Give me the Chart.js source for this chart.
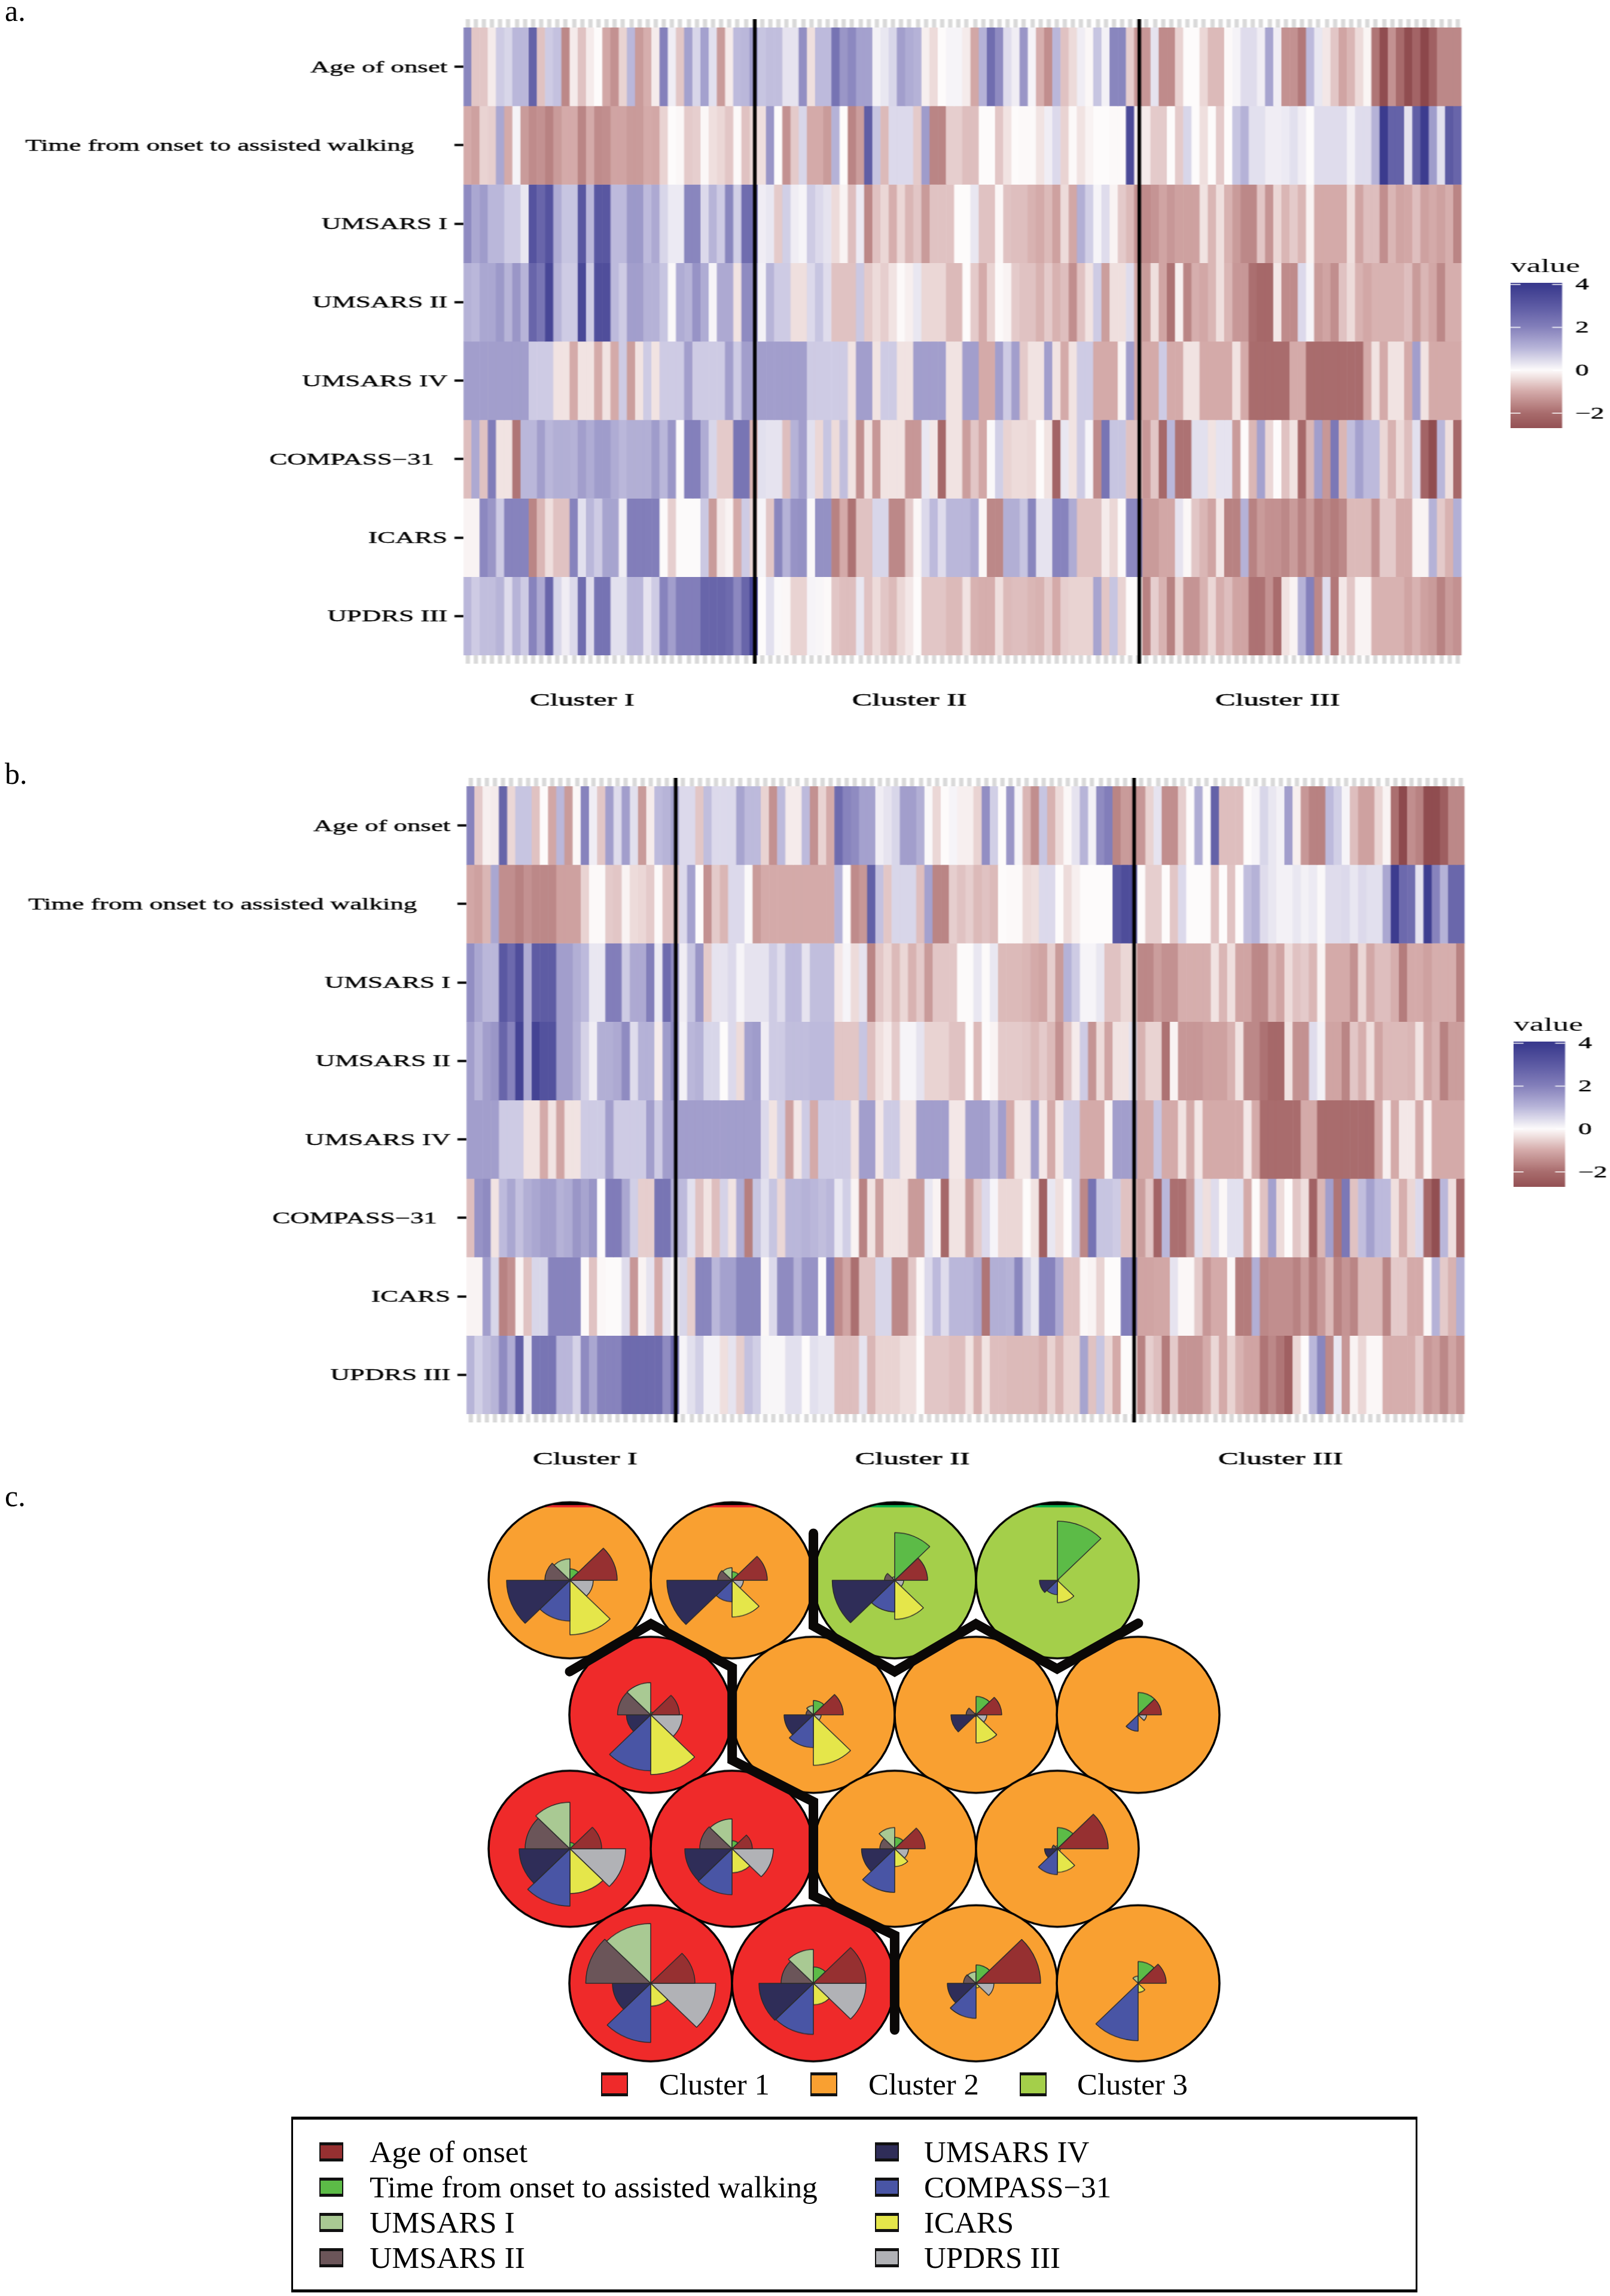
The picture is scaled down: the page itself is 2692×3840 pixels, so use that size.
<!DOCTYPE html>
<html>
<head>
<meta charset="utf-8">
<title>Clusters</title>
<script src="https://cdn.jsdelivr.net/npm/chart.js@4"></script>
<style>
  html, body { margin: 0; background: #fff; }
  #page { position: relative; width: 2692px; height: 3840px; overflow: hidden; font-family: "Liberation Serif", serif; color: #000; }
  .panel { position: absolute; width: 1602px; height: 1240px; transform-origin: 0 0; }
  .panel canvas { position: absolute; }
  .pie { position: absolute; transform: scaleY(0.96); }
  .txt { position: absolute; white-space: pre; font-size: 51px; }
  .swatch { position: absolute; box-sizing: border-box; border: solid #111; border-width: 5px 2px; }
  #box { position: absolute; left: 487px; top: 3540px; width: 1883px; height: 294px; box-sizing: border-box; border: solid #000; border-width: 5px 3px; }
</style>
</head>
<body>
<div id="page">
  <div class="panel" id="panelA" style="left:0;top:0"><canvas id="heatA" width="1602" height="1240"></canvas><canvas id="barA" width="100" height="319"></canvas></div>
  <div class="panel" id="panelB" style="left:5px;top:1269px"><canvas id="heatB" width="1602" height="1240"></canvas><canvas id="barB" width="100" height="319"></canvas></div>
  <div id="pies"></div>
  <canvas id="borders" width="2692" height="960" style="position:absolute;left:0;top:2480px"></canvas>
  <div id="box"></div>
  <div id="legends"></div>
</div>
<script>
// row labels, trailing spaces are in the original labels
const rowLabels = ["Age of onset", "Time from onset to assisted walking     ", "UMSARS I", "UMSARS II", "UMSARS IV", "COMPASS\u221231  ", "ICARS", "UPDRS III"];
const clusterNames = ["Cluster I", "Cluster II", "Cluster III"];
const clusterTickIdx = [14, 54, 99];
const barTicks = [4, 2, 0, -2];
const barRange = [-2.7, 4.08];
const breaksA = [35.1, 82.1];
const breaksB = [25.07, 81.1];

// panel a, z scores by column
const ageA = [
1.9,-.65,-.65,-.2,.7,.55,1,1,2.8,-.7,
.7,.85,-1.55,-.2,-.7,-.2,0,-1.05,-1.4,-.5,
1,-1.25,-.95,-.2,2,.2,-.65,1.4,.55,1.4,
.4,-1.25,-.2,.95,1,1.5,.8,.9,.9,.35,
.35,1.75,-.35,.95,.95,2.35,1.6,1.85,1.4,1.4,
.15,.3,.55,1.45,1.2,1.1,-.15,-.4,0,.1,
.1,-.2,-1.05,1.1,2.5,1.8,.45,.2,1.6,.1,
-.95,-1.45,1,-.7,-.4,.2,-.05,.8,.15,1.9,
1.9,-.55,-1.3,-1.3,.35,-1.5,-1.5,-.5,0,0,
-.45,-.8,-.8,-.03,.12,.45,.45,.2,1.35,.2,
-1.4,-1.4,-1.8,.95,.3,-.25,-.65,-1.1,-.85,-.4,
-.08,-1.85,-2.8,-1.4,-2.05,-2.8,-2.2,-2.95,-2.3,-1.55,
-1.55,-1.55];
const timeA = [
-1,-1.15,-.5,-.55,1.3,-1,.12,-1.25,-1.5,-1.4,
-1.65,-1.25,-1,-1,-1.6,-1,-1.5,-1.45,-1.1,-1.1,
-1.25,-1.25,-1,-1.05,-.5,0,-.05,-.6,-.55,-.05,
-.35,-.45,-.65,-.02,-.7,-.45,-.35,1.6,0,-1.4,
-.6,.55,-1,-1,-1.25,1.1,0,-1.6,-1.2,2.9,
.8,-.8,.5,.5,.5,-.6,1.5,-1.6,-1.6,-.55,
-.55,-.75,-.75,0,0,-.65,-.3,0,-.02,-.02,
-.3,.2,.5,-.5,-.02,-.3,-.1,0,0,-.02,
-.02,3.5,-.15,-.2,-.6,-.6,0,-.6,.55,0,
-.35,0,-.6,0,.8,1.1,.4,.4,.2,.2,
.25,.4,.2,0,.45,.45,.45,.45,.15,.45,
.45,1.1,3.95,2.8,2.8,.35,2.9,3.9,1.5,.4,
3,2.7];
const umsars1A = [
1.8,1.3,1.5,1,1,.7,.7,.3,3.2,2.7,
3.2,1.2,.8,.8,3.1,1,3.1,3.1,.95,.95,
1.55,1.55,.95,1.25,.55,.25,.25,1.9,1.9,.5,
1.05,.7,1.9,.65,2.5,2.5,.2,.3,-.6,.65,
.2,.1,.7,.5,.35,-.4,-.1,-.75,.25,-1.55,
-.7,-.45,-.95,-.45,-.85,-.65,-1.25,-.7,-.7,-.7,
0,0,.3,-.7,-.7,-.05,-.7,-.75,-.75,-.9,
-1,-.8,-1.15,-.4,-1.05,1.15,.65,.1,.45,-.1,
-.6,-.8,-1.4,-1.5,-1.35,-1.1,-1.3,-1.15,-1.15,-1.15,
-.3,-.85,-.35,-.9,-1.25,-1.55,-1.55,-.65,-1.35,-.45,
-.85,-.6,-.85,-.1,-1,-1,-1,-1,-.35,-1.1,
-.75,-.75,-1.45,-.85,-1.1,-1.05,-.75,-1.15,-1,-1.15,
-.95,-1.6];
const umsars2A = [
1.1,1,1.3,1.3,1.55,1.05,1.6,1.05,2.7,2.3,
3.6,1.05,.7,.7,3.55,.7,3.35,3.35,.95,.7,
1.45,1.45,1.1,1.1,.8,.05,1.2,1.05,1.65,1.2,
.1,1.25,1.25,-.3,1.8,1.8,.15,1.05,.7,.7,
-.35,-.35,.5,.8,.45,-.7,-.7,-.7,.75,-.6,
-.4,-.55,-.3,-.02,-.15,.3,-.45,-.45,-.45,-.8,
-.8,0,-.6,-1,-.5,-.02,-.1,-.6,-.7,-.7,
-.9,-.6,-.9,-.75,-1.45,-.7,-.3,.7,-1.2,-.35,
-.35,.45,-1,-1.25,-.35,-1.1,-1.9,-.15,-1.6,-.95,
-1.05,-.85,-.35,-.85,-1.3,-1.3,-1.95,-2.1,-2.1,-.25,
-1.5,-1.5,.5,.1,-1.25,-1.1,-1.45,-.7,-.4,-.9,
-1.05,-.9,-.9,-.9,-.9,-.75,-1.25,-.85,-1.05,-1.55,
-.95,-.95];
const umsars4A = [
1.45,1.45,1.45,1.45,1.45,1.45,1.45,1.45,.7,.7,
.7,-.3,-.3,-1,-.3,-.3,-1,-.3,-1,.7,
-1.2,-.3,.7,-.3,.7,.7,.7,1.45,.7,.7,
.7,.7,1.45,.7,1.45,1.45,1.45,1.45,1.45,1.45,
1.45,1.45,.7,.7,.7,.7,.7,-.3,1.45,1.45,
-.3,.7,.7,-.3,-.3,1.45,1.45,1.45,1.45,-.3,
-.3,1.45,1.45,-1,-1,1.45,.7,1.45,-.6,-.3,
-.3,1.45,-.3,-1,-.3,.7,.7,-1,-1,-1,
-.1,1.45,-1,-1,-1,.7,-1,-1,-.3,-.3,
-1,-1,-1,-1,-.3,-1,-2,-2,-2,-2,
-2,-1,-1,-2,-2,-2,-2,-2,-2,-2,
-1,-.3,-1,-.3,-.3,-1,1.45,-.3,-1,-1,
-1,-1];
const compassA = [
-.75,1.25,-.7,2.1,-.3,-.3,-1.85,1,1,1.45,
1,1.15,1.15,1.1,1.45,1.2,1.5,1.5,1.2,1,
1.15,1.15,1.15,1.5,1,1.6,.02,2,2,1.2,
.55,-.6,-.6,2.3,2.3,-.9,.4,.35,.35,-.75,
1.1,1.45,.4,-.45,.8,-.4,.9,-.3,-1.45,-.3,
-1.3,-.3,-.3,-.3,-1.3,-1.3,.3,-.25,-2.1,-.3,
-.3,-1.2,-.65,-1.05,.05,.65,-.5,-.4,-.4,-.45,
0,-.3,-2.2,.3,-.3,.7,.1,-1.5,2.3,.8,
.8,-.7,-.7,-1.3,-.65,-2.1,1,-1.9,-1.9,.4,
.4,-.3,.35,.35,-1.25,0,-.85,1.4,-.45,0,
-.7,-.3,-2.1,-.85,1.45,-1.3,2.2,-.85,.9,1.4,
.95,.95,-.45,-.9,-.4,-.75,.4,-2.2,-2.8,1,
-.35,-2.1];
const icarsA = [
-.1,-.1,1.85,1.6,.7,1.95,1.95,1.95,-1.6,-.85,
-.35,-.7,-.7,1.95,.4,1,.7,1.35,1.35,.2,
2.05,2.05,2.05,2.05,.02,-.55,.02,.02,.02,.75,
-1.25,-.25,-.1,-1,.7,-.5,.1,-.65,1.9,1.1,
1.65,1.7,.05,1.7,1.7,-1.65,-1,-1.9,-.7,-.7,
.55,.55,-1.55,-1.55,-.6,-.05,.5,.95,.45,1,
1,1,1.25,-.05,-1.55,-1.55,1.15,1.15,.8,1.9,
.35,.35,1.95,1.95,1.2,-.7,-.7,-.7,-.2,-.45,
-.02,1.85,1.85,-1.25,-1.25,-1.05,-1.05,.35,-.05,-.65,
-.85,-1.1,-.25,-1.65,-1.65,1.1,-1.65,-1.25,-1.4,-1.4,
-1.55,-1.25,-1.65,-1.25,-1.75,-1.55,-1.75,-1.55,-.8,-.8,
-.8,-1.4,-.6,-.6,-1,-1,-.1,-.1,1.1,-.6,
-.9,1.15];
const updrsA = [
1,.7,.9,.9,1.05,.45,1.05,.7,1.95,1.25,
2.7,.55,.2,.5,2.5,.45,2.35,2.35,.4,.4,
1,1,.35,.7,1.95,1.45,2.05,2.05,2.05,2.7,
2.7,2.7,2.55,1.85,2.7,3.7,0,.4,.05,-.05,
-.5,-.5,.1,.08,-.02,-.65,-.75,-.75,.3,-.7,
-.4,-.65,-.8,-.45,-.25,0,-.65,-.65,-.65,-.8,
-.8,-.3,-.9,-.95,-.95,-.35,-.8,-.75,-.75,-.85,
-.9,-.6,-1,-.55,-.5,-.5,-.5,1.35,-.65,.8,
-.5,0,0,-1.65,-.55,-.9,-1.65,-.5,-1.35,-1.35,
-.9,-.45,-.95,-.75,-1.1,-1.1,-1.9,-1.9,-1.4,-2,
-.3,-.1,1.1,2,-1.55,.45,-1.8,-.25,-.65,-.1,
-.1,-.9,-.9,-.9,-.9,-1.1,-.9,-1.15,-1.25,-1.65,
-1.25,-1.4];

// panel b
const ageB = [
1.95,-.6,-.15,-.2,2.75,-.45,.8,.8,-.7,0,
-1.05,1,-1.25,-.05,1.95,.2,-.65,1.45,.45,1.45,
.4,-1.25,-.2,.95,1.05,1.4,.5,.5,-.65,.9,
.5,.5,.5,1.35,.95,.95,-.5,-1.4,.95,-.2,
-.2,.95,-1.4,-.5,-1,2.55,1.95,1.8,1.4,1.4,
.2,.35,.55,1.45,1.45,1.15,.05,-.45,0,.1,
-.15,-.15,-.5,1.75,.65,0,1.6,.1,-.85,-1.45,
.8,-.9,-.4,-.05,.35,1.05,.15,1.8,2.05,-1.6,
-1.25,-1.3,-1.3,-.5,.35,-1.45,-1.45,-.55,0,1.2,
0,2.8,-.75,-.75,-.75,0,.1,.55,.3,.15,
1.45,-.15,-1.3,-1.65,-1.65,.95,.65,.1,-.75,-1.15,
-1.15,-.45,-.1,-1.95,-2.9,-1.45,-1.65,-2.8,-2.8,-2.35,
-1.55,-1.55];
const timeB = [
-1.05,-1.15,-.85,1.3,-1.45,-1.45,-1.65,-1.4,-1.55,-1.55,
-1.55,-1.15,-1.15,-1.15,-.5,-.03,-.03,-.6,-.65,-.1,
-.4,-.45,-.6,-.02,-.7,-.7,.5,1.4,0,-1.4,
-.6,-.85,.5,.5,.05,-1.25,-1,-1,-1,-1,
-1,-1,-1,-1,-1,1.1,0,-1.5,-1.3,2.85,
.85,-.65,.55,.55,.55,-.75,1.4,-1.6,-1.6,-.55,
-.7,-.55,-.8,-.7,-.8,0,-.02,-.02,-.4,-.35,
.5,.5,0,-.4,-.15,0,0,0,0,3.1,
3.4,3.4,0,-.55,-.55,0,-.65,.5,0,0,
0,-.7,0,-.7,0,.9,1.1,.45,.3,.15,
.15,.3,.15,.25,.05,.45,.45,.5,.3,.5,
.4,.4,1.3,3.9,2.6,2.5,.35,3.85,1.95,1.1,
2.65,2.65];
const umsars1B = [
1.75,1.3,1,1,3.05,2.6,3.35,1.2,2.95,2.95,
2.95,1.45,1.45,1.15,.95,.3,.3,2.05,2.05,.7,
1.25,1.25,2.05,.25,2.55,1.8,.2,.8,1.6,-.6,
.35,.35,.5,.1,.35,.35,.35,.7,.45,.95,
.95,.35,.9,.9,.9,-.25,.1,-.4,.35,-1.6,
-.65,-.45,-.8,-.45,-.9,-.6,-1.25,-.65,-.65,-.65,
.02,.02,.3,.02,.3,-.8,-.8,-.8,-.85,-1,
-1.1,-.55,-1.25,1.1,.7,.1,.1,.3,-.7,-.7,
-.45,-.45,-1.55,-1.55,-1.2,-1.4,-1.4,-.95,-.95,-.95,
-.95,-.3,-.85,-.35,-1.1,-1.1,-1.55,-1.55,-.85,-1.1,
-.4,-.7,-.6,-.85,-.1,-1,-1,-1,-1.4,-.45,
-1.05,-.75,-.75,-.95,-1.75,-1,-1,-1.15,-.95,-.95,
-.95,-1.65];
const umsars2B = [
1.45,1.05,1.45,1.6,2.7,1.95,3.7,1.2,3.7,3.25,
3.25,1.45,1.45,1.1,.6,.2,1.15,1.15,1.25,1.8,
.45,1.1,1.1,-.2,1.5,1.9,.15,1,1.1,.55,
.55,0,.5,-.4,1.4,1.5,.2,.7,.7,.9,
.9,.9,.95,.95,.95,-.65,-.65,-.65,.8,-.75,
-.35,-.2,-.6,.1,.1,.35,-.5,-.5,-.5,-.7,
-.7,0,-.8,0,-.1,-.6,-.6,-.6,-.65,-.8,
-.6,-.8,-1.4,-.7,-.2,.7,-1.35,-.4,-1.1,-.3,
-.3,.4,-.9,-.5,-.5,-1.9,-.1,-1.3,-1.3,-1.3,
-1.15,-1.15,-1.15,-.9,-.3,-1.55,-1.55,-1.9,-2.1,-2.1,
-.3,-1.4,-1.4,.45,.15,-1.1,-1.1,-1.6,-.65,-.95,
-.35,-1.1,-.8,-.8,-.8,-.85,-.3,-1.1,-.9,-1.65,
-1.2,-1.2];
const umsars4B = [
1.45,1.45,1.45,1.45,.7,.7,.7,-.3,-.3,-1,
-.3,-1.1,-.3,-.3,.7,.7,.7,1.45,.7,.7,
.7,.7,1.45,.7,1.45,1.45,1.45,1.45,1.45,1.45,
1.45,1.45,1.45,1.45,1.45,1.45,.5,-.3,.65,-1.15,
-.25,.7,-1,.7,.7,.7,.7,-.3,1.45,1.45,
-.25,.7,.7,-.25,-.25,1.45,1.45,1.45,1.45,-.25,
-.25,1.45,1.45,1.45,.85,1.45,-1,-.25,-.25,1.45,
-.25,-1,-.25,.7,.7,-1,-1,-1,-.1,1.45,
1.45,1.45,-1,-1,.8,-1,-1,-.3,-1,-.25,
-1,-1,-1,-1,-1,-.25,-1,-2,-2,-2,
-2,-2,-1,-1,-2,-2,-2,-2,-2,-2,
-2,-1,-.15,-1,-.25,-.25,-1,-.1,-1,-1,
-1,-1];
const compassB = [
-.75,1.65,1.8,-.3,.95,1.3,.85,1.15,1.3,1.45,
1.45,1.1,1.2,1.6,1.35,1.6,0,2.1,2.1,1.3,
.65,-.55,-.55,2.3,2.3,1.15,.95,.4,-.7,-.3,
-.75,.6,-.3,1.2,-1.7,.8,.4,.8,-.45,1,
1,1.1,1,.9,1,.3,.65,-.1,-1.65,-.3,
-1.2,-.3,-.3,-.3,-1.25,-1.25,.3,-.1,-2.1,-.3,
-.3,-1.25,-.6,.5,.1,-.45,-.45,-.45,0,-.3,
-2.3,.3,-.35,0,.7,-1.55,2.35,.8,.8,.7,
-.7,-.7,-1.2,-.65,-2.2,1,-1.95,-1.95,-1.25,.4,
-.35,.45,-.05,.4,.4,-1,0,-.7,1.4,-.4,
0,-.65,-.35,-2.25,-.85,1.45,-1.85,2.2,-.7,.9,
1.4,.95,.95,-.35,-.95,-.45,.5,-2.1,-2.75,1,
-.35,-2.1];
const icarsB = [
-.1,-.1,1.45,.55,-1.65,-1.4,-.1,-.7,.55,.55,
1.95,1.95,1.95,1.95,-.02,-.7,-.05,.02,.02,.45,
-1.3,-.1,.35,-1,.35,-.05,.55,-.55,1.9,1.9,
1,1.4,1.4,1.9,1.9,1.9,-.05,.5,1.8,1.8,
1.1,1.65,1.65,.02,2.1,-1.5,-1.1,-1.95,-.7,-.7,
.55,.55,-1.55,-1.55,-.65,-.05,.5,.95,.45,1,
1,1,1.25,-1.85,1.15,1.15,1.1,1.9,.65,.3,
1.95,1.95,1.25,-.7,-.7,-.05,-.1,-.5,0,0,
2.05,2.05,-1.1,-1.1,-1.05,-1.05,.35,-.05,-.05,-.6,
-1.3,-1,-1,-.05,-1.75,-1.75,1.15,-1.55,-1.45,-1.45,
-1.45,-1.65,-1.25,-1.75,-1.3,-.8,-1.65,-1.35,-1.6,-.8,
-.8,-.8,-1.6,-.6,-.6,-1,-1,-.05,1.1,-.6,
-.9,1.15];
const updrsB = [
1.05,.65,.9,1.05,1.8,1.2,2.85,.35,2.3,2.3,
2.3,1,1,.6,1.8,1.3,1.95,1.95,1.95,2.55,
2.55,2.55,2.55,2.55,1.8,2.7,.1,.4,.65,.15,
.15,-.35,.35,-.55,.85,.65,.08,.08,.08,.4,
.4,0,.4,.3,.3,-.75,-.75,-.75,.35,-.85,
-.5,-.5,-.5,-.35,-.35,0,-.65,-.65,-.65,-.75,
-.75,-.3,-.9,-.3,-.75,-.75,-.8,-.8,-.8,-.8,
-.95,-.5,-.85,-.5,-.5,1.35,-.7,.8,-.45,-1,
0,0,-1.65,-.55,-.75,-1.75,-.6,-1.35,-1.35,-1.35,
-1,-.45,-1,-.5,-.9,-1.1,-1.1,-1.85,-1.55,-1.85,
-2.3,-.45,0,1,1.9,-1.55,.3,-1.3,-.1,-.45,
-.05,-.05,-.95,-.95,-.95,-.95,-.6,-1.3,-1.15,-1.55,
-1.1,-1.4];

// panel c, one value per map node
const nodeCol = [0,1,2,3, .5,1.5,2.5,3.5, 0,1,2,3, .5,1.5,2.5,3.5];
const nodeRow = [0,0,0,0, 1,1,1,1, 2,2,2,2, 3,3,3,3];
const nodeCluster = [2,2,3,3, 1,2,2,2, 1,1,2,2, 1,1,2,2];
const nodeAge = [79,59,55,2, 48,50,43,39, 53,34,51,85, 74,88,108,47];
const nodeTime = [20,15,83,103, 5,25,32,39, 11,14,20,37, 2,28.5,32,38];
const nodeU1 = [37.5,22,6,0, 56,16,3,0, 81,52,37,5, 104,59,20,12.5];
const nodeU2 = [42,24,17,0, 55.5,12.4,16.6,0, 75,54,25,9, 108.6,54,21,0];
const nodeU4 = [106,109,104.5,30, 40.6,49,42,0, 85,79,55.5,21.5, 64,91,48,0];
const nodeCompass = [71,37.5,55,25, 97.5,57,3,28.5, 100,80,76,45, 103,89,61,100];
const nodeIcars = [95,64,68,39, 104,88,49,0, 78,42,31,41, 40,37.5,8,16];
const nodeUpdrs = [39,19,15,0, 53,13,18,14, 93,69,23,5, 108.6,88,30,0];
const wedgeNames = ["Age of onset", "Time from onset to assisted walking", "UMSARS I", "UMSARS II", "UMSARS IV", "COMPASS\u221231", "ICARS", "UPDRS III"];
const wedgeColors = ["#963031", "#5cbb47", "#a9c993", "#6b5559", "#2f2d58", "#4955a5", "#e5e64a", "#b1b2b6"];
const clusterColors = { 1: "#ef2a2a", 2: "#f9a031", 3: "#a4cf4a" };
const capColors = { 0: "#e8262a", 1: "#e8262a", 2: "#0db04b", 3: "#0db04b" };
const boundary1x = [0, .5, 1, 1, 1.5, 1.5, 2, 2];
const boundary1y = [.68, .325, .65, 1.34, 1.65, 2.35, 2.645, 3.35];
const boundary2x = [1.5, 1.5, 2, 2.5, 3, 3.5];
const boundary2y = [-.35, .34, .68, .325, .66, .32];

const SX = 2692 / 1602; // heatmap panels are stretched sideways in the original
const nCols = ageA.length;
const colLabels = ageA.map((_, i) => "S" + (i + 1));

const palette = [[-3, [138,69,73]], [-2, [169,108,109]], [-1, [212,170,169]], [0, [253,251,251]], [1, [186,183,218]], [2, [132,128,187]], [3, [92,90,163]], [4, [57,57,141]]];
function zColor(z) {
  z = Math.max(-3, Math.min(4, z));
  for (let i = 0; i < palette.length - 1; i++) {
    const [a, ca] = palette[i], [b, cb] = palette[i + 1];
    if (z <= b) {
      const t = (z - a) / (b - a);
      return "rgb(" + ca.map((c, j) => Math.round(c + (cb[j] - c) * t)).join(",") + ")";
    }
  }
}

Chart.defaults.font.family = '"Liberation Serif", serif';
Chart.defaults.color = "#000";
Chart.defaults.animation = false;
Chart.defaults.responsive = false;
Chart.defaults.devicePixelRatio = 1;
Chart.defaults.events = [];

const breakLines = {
  id: "breakLines",
  afterDraw(chart, args, opts) {
    const { ctx, chartArea, scales } = chart;
    ctx.save();
    ctx.strokeStyle = "#000";
    ctx.lineWidth = 6 / SX;
    opts.at.forEach(b => {
      const x = scales.x.getPixelForValue(b);
      ctx.beginPath();
      ctx.moveTo(x, chartArea.top - 14);
      ctx.lineTo(x, chartArea.bottom + 14);
      ctx.stroke();
    });
    ctx.restore();
  }
};

function heatmap(id, rows, breaks) {
  new Chart(document.getElementById(id), {
    type: "bar",
    plugins: [breakLines],
    data: {
      labels: colLabels,
      datasets: rows.map((zs, r) => ({
        label: rowLabels[r],
        data: zs.map(() => [r, r + 1]),
        backgroundColor: zs.map(zColor),
        borderWidth: 0,
        inflateAmount: 0.3,
        categoryPercentage: 1,
        barPercentage: 1,
        grouped: false
      }))
    },
    options: {
      layout: { padding: { right: 248 / SX } },
      plugins: { legend: { display: false }, tooltip: { enabled: false }, breakLines: { at: breaks } },
      scales: {
        x: {
          type: "category", offset: true,
          afterFit: s => { s.height = 144; },
          grid: { offset: false, drawOnChartArea: false, tickLength: 14, tickWidth: 4.2, tickColor: "#d9d9d9" },
          border: { display: false },
          ticks: {
            autoSkip: false, maxRotation: 0, minRotation: 0, padding: 44,
            font: { size: 30 }, textStrokeColor: "#000", textStrokeWidth: 0.5,
            callback: (v, i) => { const k = clusterTickIdx.indexOf(i); return k < 0 ? "" : clusterNames[k]; }
          }
        },
        x2: {
          type: "category", axis: "x", position: "top", offset: true,
          afterFit: s => { s.height = 46; },
          grid: { offset: false, drawOnChartArea: false, tickLength: 14, tickWidth: 4.2, tickColor: "#d9d9d9" },
          border: { display: false },
          ticks: { display: false, autoSkip: false }
        },
        y: {
          type: "linear", min: 0, max: rows.length, reverse: true,
          afterFit: s => { s.width = 775 / SX; },
          afterBuildTicks: s => { s.ticks = rows.map((_, i) => ({ value: i + 0.5 })); },
          grid: { drawOnChartArea: false, tickLength: 9, tickWidth: 4, tickColor: "#111" },
          border: { display: false },
          ticks: {
            padding: 7, autoSkip: false, labelOffset: 2, font: { size: 26.7 },
            textStrokeColor: "#000", textStrokeWidth: 0.4,
            callback: v => rowLabels[v - 0.5]
          }
        }
      }
    }
  });
}

function colorBar(id) {
  const cv = document.getElementById(id);
  cv.style.left = (2525.5 / SX) + "px";
  cv.style.top = "427px";
  new Chart(cv, {
    type: "bar",
    plugins: [{
      id: "barMarks",
      afterDatasetsDraw(chart) {
        const { ctx, chartArea, scales } = chart;
        ctx.save();
        ctx.strokeStyle = "rgba(255,255,255,.75)";
        ctx.lineWidth = 2;
        barTicks.forEach(t => {
          const y = scales.y.getPixelForValue(t);
          ctx.beginPath();
          ctx.moveTo(chartArea.left, y); ctx.lineTo(chartArea.left + 10, y);
          ctx.moveTo(chartArea.right - 10, y); ctx.lineTo(chartArea.right, y);
          ctx.stroke();
        });
        ctx.restore();
      }
    }],
    data: {
      labels: ["value"],
      datasets: [{
        data: [barRange],
        categoryPercentage: 1,
        barPercentage: 1,
        borderWidth: 0,
        backgroundColor: c => {
          const y = c.chart.scales.y;
          if (!y) return "#999";
          const top = y.getPixelForValue(barRange[1]), bot = y.getPixelForValue(barRange[0]);
          if (!Number.isFinite(top) || !Number.isFinite(bot)) return "#999";
          const g = c.chart.ctx.createLinearGradient(0, top, 0, bot);
          for (let i = 0; i <= 40; i++) {
            const f = i / 40;
            g.addColorStop(f, zColor(barRange[1] + (barRange[0] - barRange[1]) * f));
          }
          return g;
        }
      }]
    },
    options: {
      layout: { padding: { bottom: 30 } },
      plugins: {
        legend: { display: false }, tooltip: { enabled: false },
        title: { display: true, text: "value", align: "start", font: { size: 32, weight: "normal" }, padding: { top: 0, bottom: 7.6 } }
      },
      scales: {
        x: { display: false, offset: true },
        y: {
          position: "right", min: barRange[0], max: barRange[1],
          afterFit: s => { s.width = 100 - 86.5 / SX; },
          afterBuildTicks: s => { s.ticks = barTicks.map(v => ({ value: v })); },
          grid: { display: false, drawTicks: false }, border: { display: false },
          ticks: {
            padding: 13, labelOffset: 1.5, font: { size: 27 },
            textStrokeColor: "#000", textStrokeWidth: 0.4,
            callback: v => String(v).replace("-", "\u2212")
          }
        }
      }
    }
  });
}

const rowsA = [ageA, timeA, umsars1A, umsars2A, umsars4A, compassA, icarsA, updrsA];
const rowsB = [ageB, timeB, umsars1B, umsars2B, umsars4B, compassB, icarsB, updrsB];
rowsA.concat(rowsB).forEach((r, i) => { if (r.length !== nCols) console.error("row length", i, r.length); });

document.getElementById("panelA").style.transform = "scaleX(" + SX + ")";
document.getElementById("panelB").style.transform = "scaleX(" + SX + ")";
heatmap("heatA", rowsA, breaksA);
heatmap("heatB", rowsB, breaksB);
colorBar("barA");
colorBar("barB");

// panel c map
const GRID = { x0: 952.5, y0: 2643, dx: 271.7, dy: 224.5 };
const PIE = 288;
const nodeBg = {
  id: "nodeBg",
  beforeDatasetsDraw(chart, args, opts) {
    const { ctx, scales } = chart;
    const r = scales.r, R = r.getDistanceFromCenterForValue(r.max);
    ctx.save();
    ctx.beginPath();
    ctx.arc(r.xCenter, r.yCenter, R, 0, Math.PI * 2);
    ctx.fillStyle = opts.fill;
    ctx.fill();
    if (opts.cap) {
      ctx.save();
      ctx.clip();
      ctx.fillStyle = "#000";
      ctx.fillRect(r.xCenter - R, r.yCenter - R, 2 * R, 5);
      ctx.fillStyle = opts.cap;
      ctx.fillRect(r.xCenter - R, r.yCenter - R + 5, 2 * R, 4);
      ctx.restore();
    }
    ctx.lineWidth = 3.5;
    ctx.strokeStyle = "#000";
    ctx.stroke();
    ctx.restore();
  }
};
const piesEl = document.getElementById("pies");
nodeCol.forEach((c, n) => {
  const cv = document.createElement("canvas");
  cv.width = PIE; cv.height = PIE;
  cv.className = "pie";
  cv.style.left = (GRID.x0 + c * GRID.dx - PIE / 2) + "px";
  cv.style.top = (GRID.y0 + nodeRow[n] * GRID.dy - PIE / 2) + "px";
  piesEl.appendChild(cv);
  const vals = [nodeAge[n], nodeTime[n], nodeU1[n], nodeU2[n], nodeU4[n], nodeCompass[n], nodeIcars[n], nodeUpdrs[n]];
  // wedges run anticlockwise from east in the original, chart.js goes clockwise
  new Chart(cv, {
    type: "polarArea",
    plugins: [nodeBg],
    data: {
      labels: wedgeNames.slice().reverse(),
      datasets: [{
        data: vals.slice().reverse(),
        backgroundColor: wedgeColors.slice().reverse(),
        borderColor: "#2b2b2b",
        borderWidth: 1.5
      }]
    },
    options: {
      layout: { padding: 8 },
      plugins: {
        legend: { display: false }, tooltip: { enabled: false },
        nodeBg: { fill: clusterColors[nodeCluster[n]], cap: nodeRow[n] === 0 ? capColors[c] : null }
      },
      scales: {
        r: { min: 0, max: 136, startAngle: 90, ticks: { display: false }, grid: { display: false }, angleLines: { display: false }, pointLabels: { display: false } }
      }
    }
  });
});

// thick cluster boundaries, in grid units
new Chart(document.getElementById("borders"), {
  type: "scatter",
  data: {
    datasets: [[boundary1x, boundary1y], [boundary2x, boundary2y]].map(([xs, ys]) => ({
      data: xs.map((x, i) => ({ x, y: ys[i] })),
      showLine: true, borderColor: "#0a0807", borderWidth: 16, pointRadius: 0,
      borderCapStyle: "round", borderJoinStyle: "miter", clip: false
    }))
  },
  options: {
    plugins: { legend: { display: false }, tooltip: { enabled: false } },
    scales: {
      x: { display: false, min: -GRID.x0 / GRID.dx, max: (2692 - GRID.x0) / GRID.dx },
      y: { display: false, reverse: true, min: (2480 - GRID.y0) / GRID.dy, max: (3440 - GRID.y0) / GRID.dy }
    }
  }
});

// legends and panel letters
const legendsEl = document.getElementById("legends");
function addText(text, left, top, size, lh) {
  const d = document.createElement("div");
  d.className = "txt";
  d.textContent = text;
  d.style.cssText += "left:" + left + "px;top:" + top + "px;font-size:" + size + "px;line-height:" + lh + "px";
  legendsEl.appendChild(d);
}
function addSwatch(color, left, top, w, h) {
  const d = document.createElement("div");
  d.className = "swatch";
  d.style.cssText += "left:" + left + "px;top:" + top + "px;width:" + w + "px;height:" + h + "px;background:" + color;
  legendsEl.appendChild(d);
}
addText("a.", 8, -7, 50, 50);
addText("b.", 8, 1269, 50, 50);
addText("c.", 8, 2477, 50, 50);
[[1005, 1102, 1, "Cluster 1"], [1355, 1452, 2, "Cluster 2"], [1704.5, 1801, 3, "Cluster 3"]].forEach(([sx, tx, k, name]) => {
  addSwatch(clusterColors[k], sx, 3466, 45, 40);
  addText(name, tx, 3466, 50.8, 40);
});
wedgeNames.forEach((name, i) => {
  const col = i < 4 ? 0 : 1, row = i % 4;
  const y = 3583 + row * 59;
  addSwatch(wedgeColors[i], col ? 1462.5 : 534, y, 40, 32);
  addText(name, col ? 1545 : 618, y, col ? 51 : 51.7, 32);
});
</script>
</body>
</html>
